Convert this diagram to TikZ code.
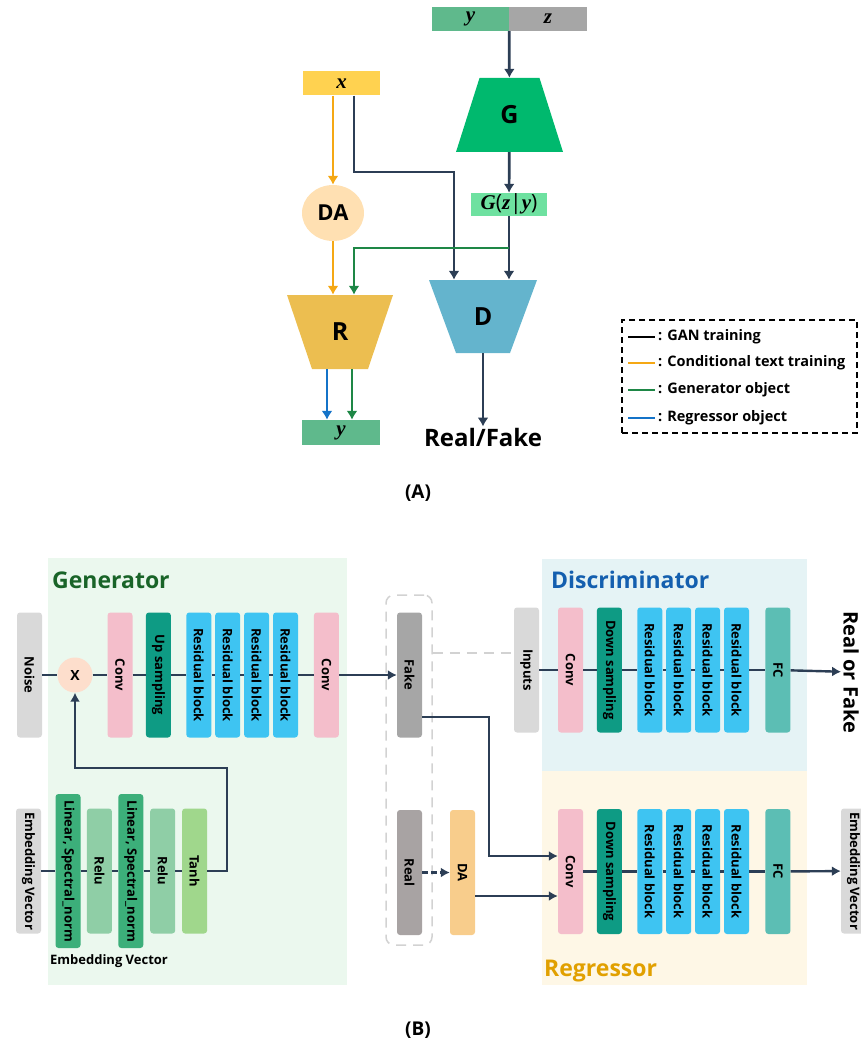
\documentclass[tikz,border=0pt]{standalone}
\usepackage{amsmath,amssymb}
\usepackage{graphicx}
\usepackage{fontspec}
\setmainfont{Open Sans}
\newfontfamily\varfont{Liberation Serif}
\usepackage{tikz}
\usetikzlibrary{arrows.meta,positioning,shapes.geometric,calc}

\definecolor{linec}{RGB}{44,62,85}
\definecolor{condc}{RGB}{245,168,20}
\definecolor{genc}{RGB}{30,135,70}
\definecolor{regc}{RGB}{20,115,200}
\definecolor{yboxc}{RGB}{95,185,140}
\definecolor{zboxc}{RGB}{166,166,166}
\definecolor{xboxc}{RGB}{255,210,80}
\definecolor{Gfill}{RGB}{0,185,110}
\definecolor{Gzyc}{RGB}{110,225,160}
\definecolor{DAfill}{RGB}{255,224,178}
\definecolor{Rfill}{RGB}{236,190,80}
\definecolor{Dfill}{RGB}{100,180,205}
\definecolor{genbg}{RGB}{235,248,238}
\definecolor{discbg}{RGB}{229,243,245}
\definecolor{regbg}{RGB}{254,247,230}
\definecolor{grayL}{RGB}{217,217,217}
\definecolor{convc}{RGB}{244,190,203}
\definecolor{tealc}{RGB}{14,155,132}
\definecolor{resc}{RGB}{62,196,242}
\definecolor{fcc}{RGB}{92,190,180}
\definecolor{linc}{RGB}{60,175,122}
\definecolor{reluc}{RGB}{143,206,166}
\definecolor{tanhc}{RGB}{160,215,140}
\definecolor{fakec}{RGB}{166,166,166}
\definecolor{realc}{RGB}{168,163,163}
\definecolor{dac}{RGB}{248,205,140}
\definecolor{mulc}{RGB}{253,222,204}
\definecolor{dashc}{RGB}{210,210,210}
\definecolor{gent}{RGB}{25,100,40}
\definecolor{disct}{RGB}{20,95,175}
\definecolor{regt}{RGB}{225,160,0}

\newcommand{\vlabel}[1]{\rotatebox{-90}{#1}}
\newcommand{\var}[1]{{\varfont\bfseries\itshape #1}}

\begin{document}
\begin{tikzpicture}[
    x=1pt, y=-1pt,
    every node/.style={font=\bfseries},
    vec/.style={
        rectangle,
        minimum width=77pt,
        minimum height=24pt,
        inner sep=0pt,
        font=\fontsize{21}{23}\selectfont
    },
    block/.style={
        rectangle,
        inner sep=0pt,
        font=\bfseries\fontsize{25}{27}\selectfont
    },
    trapup/.style args={#1/#2}{
        block,
        path picture={
            \fill[#1] ([xshift=#2]path picture bounding box.north west)
                -- ([xshift=-#2]path picture bounding box.north east)
                -- (path picture bounding box.south east)
                -- (path picture bounding box.south west) -- cycle;
        }
    },
    trapdown/.style args={#1/#2}{
        block,
        path picture={
            \fill[#1] (path picture bounding box.north west)
                -- (path picture bounding box.north east)
                -- ([xshift=-#2]path picture bounding box.south east)
                -- ([xshift=#2]path picture bounding box.south west) -- cycle;
        }
    },
    layer/.style={
        rectangle,
        rounded corners=3pt,
        minimum width=25pt,
        minimum height=125pt,
        inner sep=0pt,
        font=\bfseries\fontsize{13}{15}\selectfont
    },
    tall/.style={layer, minimum height=154pt},
    panel/.style={rectangle, inner sep=0pt},
    title/.style={anchor=west, inner sep=0pt, font=\bfseries\fontsize{23}{25}\selectfont},
    gan/.style={-{Latex[length=9pt,width=11pt]}, line width=2.7pt, draw=linec},
    cond/.style={gan, draw=condc},
    genobj/.style={gan, draw=genc},
    regobj/.style={gan, draw=regc},
    flow/.style={line width=2.4pt, draw=linec},
    arrow/.style={flow, -{Latex[length=9pt,width=10pt]}}
]
\useasboundingbox (0,0) rectangle (860,1043);

% (A)
\node[vec, fill=yboxc] (ycond) at (470.5,19) {\var{y}};
\node[vec, fill=zboxc, minimum width=78pt] (znoise) at (548,19) {\var{z}};
\node[vec, fill=xboxc] (xin) at (341.5,83.5) {\var{x}};

\node[trapup={Gfill/23.5pt}, minimum width=107pt, minimum height=74pt] (G) at (509.5,115) {G};
\node[vec, fill=Gzyc, minimum width=76pt, minimum height=23pt] (Gzy) at (509,204.5) {\var{G}(\var{z}|\var{y})};

\node[ellipse, fill=DAfill, minimum width=62pt, minimum height=56pt, inner sep=0pt,
      font=\bfseries\fontsize{22}{24}\selectfont] (DA) at (333,213) {DA};

\node[trapdown={Rfill/25pt}, minimum width=106pt, minimum height=74pt] (R) at (340,332) {R};
\node[trapdown={Dfill/27pt}, minimum width=108pt, minimum height=73pt] (D) at (483,316.5) {D};

\node[vec, fill=yboxc, minimum width=78pt, minimum height=25pt] (yout) at (341,432.5) {\var{y}};
\node[inner sep=1pt, font=\bfseries\fontsize{24}{26}\selectfont] (rf) at (483,437) {Real/Fake};

\coordinate (xturn) at (454,172);
\coordinate (gsplit) at (509,248);

\draw[gan] (ycond.south east) -- (G);
\draw[gan] (G) -- (Gzy);
\draw[gan] ([xshift=12.5pt]xin.south) |- (xturn) -- (xturn |- D.north);
\draw[gan] (Gzy) -- (Gzy |- D.north);
\draw[gan] (D) -- (rf);
\draw[cond] (DA |- xin.south) -- (DA);
\draw[cond] (DA) -- (DA |- R.north);
\draw[genobj] (gsplit) -| ([xshift=14pt]R.north);
\draw[regobj] ([xshift=-13pt]R.south) -- ([xshift=-13pt]R.south |- yout.north);
\draw[genobj] ([xshift=12pt]R.south) -- ([xshift=12pt]R.south |- yout.north);

% legend
\node[draw, dash pattern=on 6pt off 4pt, line width=1.3pt, minimum width=235pt,
      minimum height=113pt, inner sep=0pt] (legend) at (739.5,376.5) {};
\foreach \c/\t/\y [count=\i] in {black/GAN training/337, condc/Conditional text training/363,
                                 genc/Generator object/390, regc/Regressor object/418}{
    \draw[line width=2.2pt, \c] (628,\y) -- (655,\y);
    \node[anchor=west, inner sep=0pt, font=\bfseries\fontsize{14.5}{16}\selectfont] (leg\i) at (658,\y) {:\hspace{5pt}\t};
}

\node[font=\bfseries\fontsize{19}{21}\selectfont] (labA) at (418,493) {(A)};

% (B) panels
\node[panel, fill=genbg, minimum width=299pt, minimum height=427pt] (genpanel) at (197.5,771.5) {};
\node[panel, fill=discbg, minimum width=265pt, minimum height=212pt] (discpanel) at (674.5,665) {};
\node[panel, fill=regbg, minimum width=265pt, minimum height=214pt] (regpanel) at (674.5,878) {};

\node[title, text=gent] (gentitle) at (52,580) {Generator};
\node[title, text=disct] (disctitle) at (551,580) {Discriminator};
\node[title, text=regt] (regtitle) at (544,971) {Regressor};

% generator
\node[layer, fill=grayL] (noise) at (29.5,675) {\vlabel{Noise}};
\node[circle, fill=mulc, minimum size=35pt, inner sep=0pt,
      font=\bfseries\fontsize{14}{16}\selectfont] (mul) at (75,675) {X};
\node[layer, fill=convc] (gconv1) at (120,675) {\vlabel{Conv}};
\node[layer, fill=tealc, right=13pt of gconv1] (gup) {\vlabel{Up sampling}};
\node[layer, fill=resc, right=15pt of gup] (gres1) {\vlabel{Residual block}};
\node[layer, fill=resc, right=3.5pt of gres1] (gres2) {\vlabel{Residual block}};
\node[layer, fill=resc, right=3.5pt of gres2] (gres3) {\vlabel{Residual block}};
\node[layer, fill=resc, right=3.5pt of gres3] (gres4) {\vlabel{Residual block}};
\node[layer, fill=convc, right=15.5pt of gres4] (gconv2) {\vlabel{Conv}};

\node[layer, fill=grayL] (embin) at (28.5,871) {\vlabel{Embedding Vector}};
\node[tall, fill=linc] (lin1) at (68,871) {\vlabel{Linear, Spectral\_norm}};
\node[layer, fill=reluc, right=6pt of lin1] (relu1) {\vlabel{Relu}};
\node[tall, fill=linc, right=6pt of relu1] (lin2) {\vlabel{Linear, Spectral\_norm}};
\node[layer, fill=reluc, right=6.5pt of lin2] (relu2) {\vlabel{Relu}};
\node[layer, fill=tanhc, right=6.5pt of relu2] (tanh) {\vlabel{Tanh}};
\node[inner sep=0pt, font=\bfseries\fontsize{13}{15}\selectfont] (embcap) at (109,961) {Embedding Vector};

% fake / real
\node[layer, fill=fakec] (fake) at (409.5,675) {\vlabel{Fake}};
\node[layer, fill=realc] (real) at (409.5,872.5) {\vlabel{Real}};
\node[draw=dashc, dash pattern=on 10pt off 7pt, line width=1.5pt, rounded corners=8pt,
      minimum width=46pt, minimum height=350pt, inner sep=0pt] (pool) at (409,770) {};
\node[layer, fill=dac] (dabox) at (462.5,872.5) {\vlabel{DA}};

% discriminator
\node[layer, fill=grayL] (inputs) at (526.5,670) {\vlabel{Inputs}};
\node[layer, fill=convc] (dconv) at (570.5,670) {\vlabel{Conv}};
\node[layer, fill=tealc, right=13.5pt of dconv] (ddown) {\vlabel{Down sampling}};
\node[layer, fill=resc, right=15pt of ddown] (dres1) {\vlabel{Residual block}};
\node[layer, fill=resc, right=3.5pt of dres1] (dres2) {\vlabel{Residual block}};
\node[layer, fill=resc, right=3.5pt of dres2] (dres3) {\vlabel{Residual block}};
\node[layer, fill=resc, right=3.5pt of dres3] (dres4) {\vlabel{Residual block}};
\node[layer, fill=fcc, right=16pt of dres4] (dfc) {\vlabel{FC}};
\node[inner sep=2pt, font=\bfseries\fontsize{20}{22}\selectfont] (rof) at (851,672) {\vlabel{Real or Fake}};

% regressor
\node[layer, fill=convc] (rconv) at (570.5,871.5) {\vlabel{Conv}};
\node[layer, fill=tealc, right=13.5pt of rconv] (rdown) {\vlabel{Down sampling}};
\node[layer, fill=resc, right=15pt of rdown] (rres1) {\vlabel{Residual block}};
\node[layer, fill=resc, right=3.5pt of rres1] (rres2) {\vlabel{Residual block}};
\node[layer, fill=resc, right=3.5pt of rres2] (rres3) {\vlabel{Residual block}};
\node[layer, fill=resc, right=3.5pt of rres3] (rres4) {\vlabel{Residual block}};
\node[layer, fill=fcc, right=16pt of rres4] (rfc) {\vlabel{FC}};
\node[layer, fill=grayL] (embout) at (853.5,871) {\vlabel{Embedding Vector}};

% connectors
\foreach \a/\b in {noise/mul, mul/gconv1, gconv1/gup, gup/gres1, gres1/gres2, gres2/gres3, gres3/gres4, gres4/gconv2,
                   embin/lin1, lin1/relu1, relu1/lin2, lin2/relu2, relu2/tanh,
                   inputs/dconv, dconv/ddown, ddown/dres1, dres1/dres2, dres2/dres3, dres3/dres4, dres4/dfc,
                   rconv/rdown, rdown/rres1, rres1/rres2, rres2/rres3, rres3/rres4, rres4/rfc}
    \draw[flow] (\a) -- (\b);
\draw[arrow] (gconv2) -- (fake);
\draw[arrow] (dfc) -- (rof);
\draw[arrow] (rfc) -- (embout);

\coordinate (loopR) at (227,768);
\draw[arrow] (tanh) -| (loopR) -| (mul);

\coordinate (dl) at (0,653);
\draw[draw=dashc, dash pattern=on 10pt off 7pt, line width=1.5pt] (pool.east |- dl) -- (inputs.west |- dl);

\coordinate (fturn) at (489,856);
\draw[arrow] ([yshift=-42pt]fake.east) -| (fturn) -- (fturn -| rconv.west);
\draw[arrow, dash pattern=on 6pt off 3pt] (real) -- (dabox);
\draw[arrow] ([yshift=-23.5pt]dabox.east) -- ([yshift=-23.5pt]dabox.east -| rconv.west);

\node[font=\bfseries\fontsize{19}{21}\selectfont] (labB) at (418,1030) {(B)};

\end{tikzpicture}
\end{document}
